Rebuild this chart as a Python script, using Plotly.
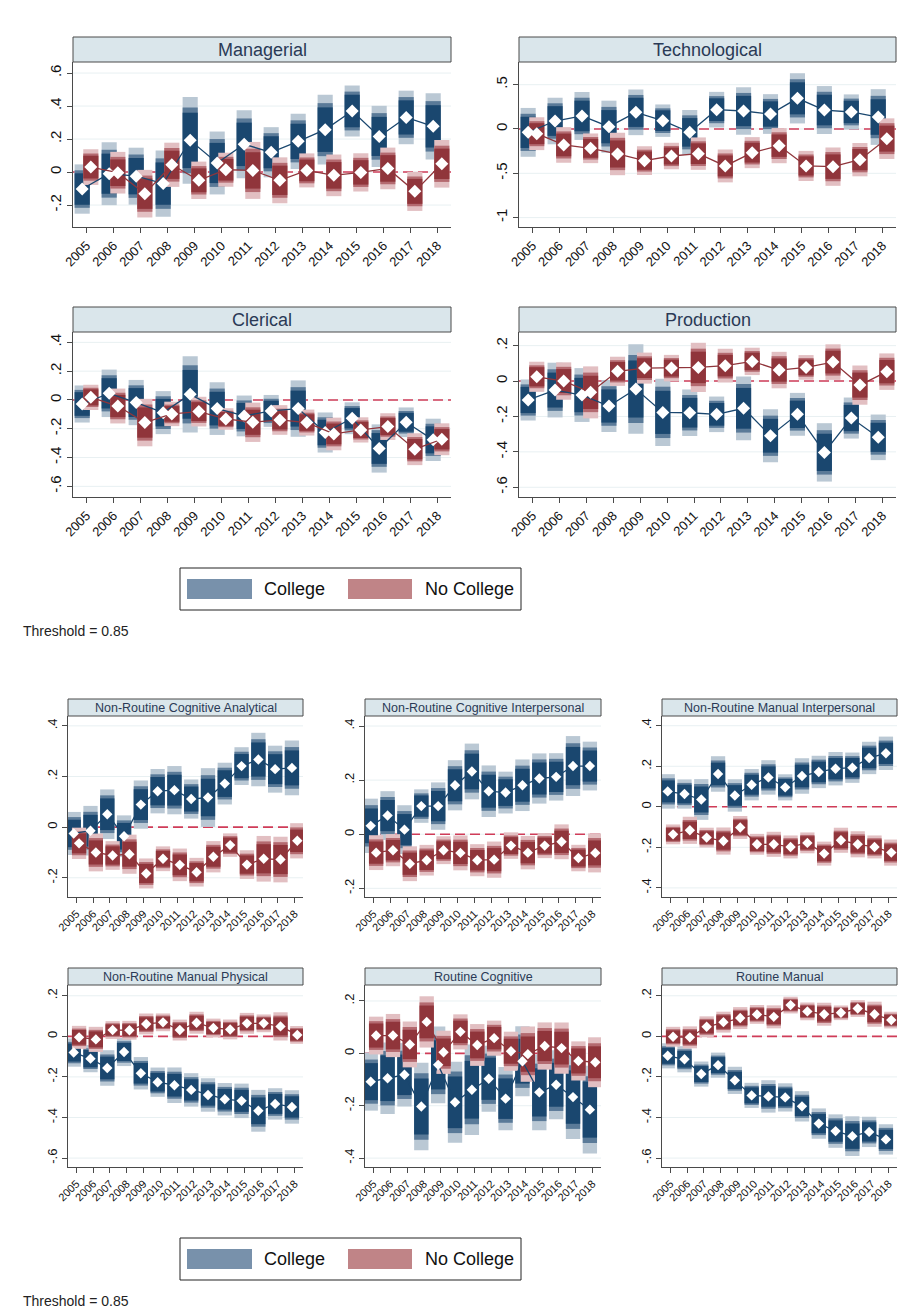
import plotly.graph_objects as go

years = list(range(2005, 2019))

# Point estimates and standard errors by year: College vs No College
managerial_col = [-0.103, -0.01, -0.025, -0.07, 0.192, 0.055, 0.168, 0.12, 0.186, 0.257, 0.37, 0.216, 0.331, 0.277]
managerial_col_se = [0.058, 0.074, 0.067, 0.078, 0.102, 0.074, 0.08, 0.059, 0.065, 0.082, 0.06, 0.072, 0.063, 0.078]
managerial_nocol = [0.03, -0.004, -0.131, 0.044, -0.05, 0.014, 0.01, -0.05, 0.01, -0.02, -0.002, 0.022, -0.117, 0.05]
managerial_nocol_se = [0.042, 0.049, 0.056, 0.052, 0.044, 0.04, 0.067, 0.054, 0.04, 0.049, 0.045, 0.049, 0.046, 0.056]

technological_col = [-0.038, 0.09, 0.147, 0.026, 0.188, 0.094, -0.038, 0.218, 0.203, 0.169, 0.346, 0.214, 0.192, 0.135]
technological_col_se = [0.107, 0.102, 0.105, 0.114, 0.1, 0.071, 0.098, 0.078, 0.104, 0.087, 0.11, 0.105, 0.077, 0.122]
technological_nocol = [-0.053, -0.18, -0.218, -0.282, -0.357, -0.305, -0.278, -0.417, -0.267, -0.188, -0.417, -0.425, -0.346, -0.109]
technological_nocol_se = [0.072, 0.078, 0.065, 0.093, 0.063, 0.058, 0.071, 0.072, 0.068, 0.077, 0.066, 0.084, 0.073, 0.089]

clerical_col = [-0.028, 0.046, -0.018, -0.088, 0.039, -0.06, -0.111, -0.076, -0.06, -0.226, -0.127, -0.337, -0.155, -0.277]
clerical_col_se = [0.05, 0.064, 0.061, 0.058, 0.103, 0.071, 0.055, 0.043, 0.076, 0.054, 0.043, 0.065, 0.04, 0.057]
clerical_nocol = [0.018, -0.042, -0.157, -0.097, -0.081, -0.132, -0.155, -0.139, -0.157, -0.236, -0.208, -0.185, -0.342, -0.273]
clerical_nocol_se = [0.034, 0.047, 0.064, 0.033, 0.04, 0.029, 0.053, 0.04, 0.035, 0.044, 0.034, 0.036, 0.043, 0.043]

production_col = [-0.107, -0.051, -0.079, -0.141, -0.045, -0.177, -0.179, -0.188, -0.154, -0.309, -0.188, -0.403, -0.209, -0.318]
production_col_se = [0.045, 0.06, 0.059, 0.057, 0.098, 0.074, 0.051, 0.039, 0.07, 0.058, 0.047, 0.064, 0.045, 0.05]
production_nocol = [0.024, 0.0, -0.064, 0.055, 0.073, 0.073, 0.077, 0.087, 0.111, 0.062, 0.077, 0.107, -0.023, 0.053]
production_nocol_se = [0.033, 0.041, 0.057, 0.032, 0.034, 0.029, 0.054, 0.037, 0.03, 0.04, 0.027, 0.039, 0.043, 0.04]

nrca_col = [-0.025, -0.014, 0.051, -0.036, 0.089, 0.142, 0.146, 0.111, 0.117, 0.172, 0.241, 0.267, 0.229, 0.234]
nrca_col_se = [0.033, 0.038, 0.038, 0.032, 0.037, 0.034, 0.037, 0.03, 0.045, 0.032, 0.029, 0.041, 0.036, 0.042]
nrca_nocol = [-0.064, -0.1, -0.112, -0.107, -0.183, -0.125, -0.149, -0.178, -0.117, -0.071, -0.148, -0.125, -0.128, -0.054]
nrca_nocol_se = [0.024, 0.029, 0.022, 0.03, 0.023, 0.019, 0.025, 0.022, 0.024, 0.018, 0.022, 0.035, 0.035, 0.027]

nrci_col = [0.031, 0.069, 0.017, 0.104, 0.104, 0.181, 0.232, 0.159, 0.154, 0.181, 0.206, 0.212, 0.252, 0.252]
nrci_col_se = [0.039, 0.035, 0.035, 0.024, 0.034, 0.036, 0.04, 0.037, 0.03, 0.037, 0.036, 0.034, 0.043, 0.035]
nrci_nocol = [-0.068, -0.059, -0.109, -0.096, -0.059, -0.069, -0.096, -0.094, -0.042, -0.068, -0.042, -0.028, -0.088, -0.069]
nrci_nocol_se = [0.025, 0.023, 0.025, 0.022, 0.02, 0.025, 0.023, 0.026, 0.019, 0.024, 0.018, 0.025, 0.019, 0.028]

nrmi_col = [0.076, 0.063, 0.036, 0.162, 0.056, 0.109, 0.145, 0.096, 0.152, 0.172, 0.188, 0.193, 0.241, 0.264]
nrmi_col_se = [0.033, 0.028, 0.039, 0.034, 0.031, 0.03, 0.033, 0.025, 0.034, 0.031, 0.032, 0.029, 0.031, 0.032]
nrmi_nocol = [-0.136, -0.116, -0.152, -0.169, -0.102, -0.185, -0.185, -0.198, -0.178, -0.231, -0.165, -0.185, -0.198, -0.226]
nrmi_nocol_se = [0.019, 0.026, 0.019, 0.026, 0.022, 0.02, 0.024, 0.022, 0.02, 0.023, 0.024, 0.025, 0.022, 0.025]

nrmp_col = [-0.08, -0.11, -0.156, -0.077, -0.182, -0.226, -0.241, -0.264, -0.289, -0.31, -0.318, -0.367, -0.333, -0.348]
nrmp_col_se = [0.027, 0.026, 0.034, 0.027, 0.031, 0.028, 0.034, 0.032, 0.032, 0.031, 0.033, 0.04, 0.03, 0.032]
nrmp_nocol = [-0.005, -0.015, 0.031, 0.03, 0.061, 0.069, 0.031, 0.067, 0.041, 0.034, 0.064, 0.064, 0.049, 0.007]
nrmp_nocol_se = [0.022, 0.024, 0.017, 0.018, 0.02, 0.017, 0.02, 0.021, 0.018, 0.019, 0.02, 0.017, 0.027, 0.017]

rc_col = [-0.108, -0.095, -0.082, -0.203, -0.044, -0.187, -0.139, -0.097, -0.173, -0.03, -0.149, -0.12, -0.167, -0.215]
rc_col_se = [0.043, 0.053, 0.047, 0.065, 0.057, 0.06, 0.067, 0.049, 0.047, 0.052, 0.056, 0.051, 0.062, 0.065]
rc_nocol = [0.068, 0.068, 0.034, 0.12, 0.004, 0.082, 0.032, 0.058, 0.008, -0.003, 0.028, 0.02, -0.029, -0.034]
rc_nocol_se = [0.028, 0.032, 0.034, 0.038, 0.032, 0.026, 0.031, 0.026, 0.029, 0.041, 0.035, 0.038, 0.029, 0.037]

rm_col = [-0.096, -0.113, -0.186, -0.142, -0.217, -0.291, -0.296, -0.301, -0.345, -0.43, -0.467, -0.492, -0.471, -0.508]
rm_col_se = [0.024, 0.025, 0.024, 0.024, 0.026, 0.024, 0.031, 0.027, 0.029, 0.029, 0.032, 0.038, 0.029, 0.029]
rm_nocol = [-0.002, -0.005, 0.047, 0.07, 0.09, 0.108, 0.096, 0.154, 0.123, 0.109, 0.116, 0.137, 0.109, 0.08]
rm_nocol_se = [0.019, 0.021, 0.02, 0.02, 0.021, 0.018, 0.022, 0.016, 0.017, 0.022, 0.014, 0.016, 0.024, 0.016]

group_labels = ["College", "No College"]
note_text = "Threshold = 0.85"

# ---- styling -------------------------------------------------------------
W, H = 915, 1315
FONT = "Liberation Sans, Arial, sans-serif"
NAVY = "#1a476f"
MAROON = "#90353b"
COL_SHADES = ["#bac8d4", "#5a7a98", NAVY]      # 99%, 95%, 90% intervals
NOCOL_SHADES = ["#e2bfc2", "#b46a70", MAROON]
LEGEND_SWATCH = ["#7891ab", "#c08487"]
Z_LEVELS = [2.576, 1.96, 1.645]
STRIP_FILL = "#dae6eb"
AXIS_COLOR = "#4a4a4a"
GRID_COLOR = "#e8f0f2"


def fx(px):
    return px / W


def fy(py):
    return 1 - py / H


def stata_label(v):
    s = f"{v:g}"
    return s.replace("0.", ".") if abs(v) < 1 else s


# panel frames in pixels: (left, right, top, bottom) of the plot area
panels = [
    dict(title="Managerial", col=managerial_col, col_se=managerial_col_se,
         nocol=managerial_nocol, nocol_se=managerial_nocol_se,
         frame=(73, 451, 62, 227), yrange=(-0.333, 0.667), yticks=[-0.2, 0, 0.2, 0.4, 0.6], big=True),
    dict(title="Technological", col=technological_col, col_se=technological_col_se,
         nocol=technological_nocol, nocol_se=technological_nocol_se,
         frame=(519, 896, 62, 227), yrange=(-1.106, 0.756), yticks=[-1, -0.5, 0, 0.5], big=True),
    dict(title="Clerical", col=clerical_col, col_se=clerical_col_se,
         nocol=clerical_nocol, nocol_se=clerical_nocol_se,
         frame=(73, 451, 332, 497), yrange=(-0.674, 0.472), yticks=[-0.6, -0.4, -0.2, 0, 0.2, 0.4], big=True),
    dict(title="Production", col=production_col, col_se=production_col_se,
         nocol=production_nocol, nocol_se=production_nocol_se,
         frame=(519, 896, 332, 497), yrange=(-0.655, 0.277), yticks=[-0.6, -0.4, -0.2, 0, 0.2], big=True),
    dict(title="Non-Routine Cognitive Analytical", col=nrca_col, col_se=nrca_col_se,
         nocol=nrca_nocol, nocol_se=nrca_nocol_se,
         frame=(68, 303, 716, 897), yrange=(-0.276, 0.439), yticks=[-0.2, 0, 0.2, 0.4], big=False),
    dict(title="Non-Routine Cognitive Interpersonal", col=nrci_col, col_se=nrci_col_se,
         nocol=nrci_nocol, nocol_se=nrci_nocol_se,
         frame=(365, 601, 716, 897), yrange=(-0.232, 0.437), yticks=[-0.2, 0, 0.2, 0.4], big=False),
    dict(title="Non-Routine Manual Interpersonal", col=nrmi_col, col_se=nrmi_col_se,
         nocol=nrmi_nocol, nocol_se=nrmi_nocol_se,
         frame=(662, 897, 716, 897), yrange=(-0.445, 0.448), yticks=[-0.4, -0.2, 0, 0.2, 0.4], big=False),
    dict(title="Non-Routine Manual Physical", col=nrmp_col, col_se=nrmp_col_se,
         nocol=nrmp_nocol, nocol_se=nrmp_nocol_se,
         frame=(68, 303, 985, 1167), yrange=(-0.644, 0.253), yticks=[-0.6, -0.4, -0.2, 0, 0.2], big=False),
    dict(title="Routine Cognitive", col=rc_col, col_se=rc_col_se,
         nocol=rc_nocol, nocol_se=rc_nocol_se,
         frame=(365, 601, 985, 1167), yrange=(-0.434, 0.261), yticks=[-0.4, -0.2, 0, 0.2], big=False),
    dict(title="Routine Manual", col=rm_col, col_se=rm_col_se,
         nocol=rm_nocol, nocol_se=rm_nocol_se,
         frame=(662, 897, 985, 1167), yrange=(-0.644, 0.253), yticks=[-0.6, -0.4, -0.2, 0, 0.2], big=False),
]

fig = go.Figure()
shapes = []
annotations = []

for i, p in enumerate(panels, start=1):
    xref = "x" if i == 1 else f"x{i}"
    yref = "y" if i == 1 else f"y{i}"
    left, right, top, bottom = p["frame"]
    big = p["big"]
    bar_w = 0.56 if big else 0.85
    offset = 0.16

    series = [
        (p["col"], p["col_se"], -offset, COL_SHADES, NAVY),
        (p["nocol"], p["nocol_se"], offset, NOCOL_SHADES, MAROON),
    ]
    for est, se, off, shades, line_col in series:
        xs = [yr + off for yr in years]
        for z, shade in zip(Z_LEVELS, shades):
            fig.add_trace(go.Bar(
                x=xs, y=[2 * z * s for s in se], base=[e - z * s for e, s in zip(est, se)],
                width=bar_w, marker=dict(color=shade, line=dict(width=0)),
                xaxis=xref, yaxis=yref, showlegend=False, hoverinfo="skip"))
        fig.add_trace(go.Scatter(
            x=xs, y=est, mode="lines+markers",
            line=dict(color=line_col, width=1.3),
            marker=dict(symbol="diamond", size=10 if big else 8, color="white", line=dict(width=0)),
            xaxis=xref, yaxis=yref, showlegend=False, hoverinfo="skip"))

    xname = "xaxis" if i == 1 else f"xaxis{i}"
    yname = "yaxis" if i == 1 else f"yaxis{i}"
    fig.update_layout(**{
        xname: dict(
            domain=[fx(left), fx(right)], anchor=yref, range=[2004.5, 2018.5],
            tickmode="array", tickvals=years, ticktext=[str(y) for y in years],
            tickangle=-45, tickfont=dict(size=13 if big else 11, color="#111", family=FONT),
            showgrid=False, zeroline=False, showline=True, linecolor=AXIS_COLOR, linewidth=1,
            ticks="outside", ticklen=5, tickcolor=AXIS_COLOR, fixedrange=True, automargin=False),
        yname: dict(
            domain=[fy(bottom), fy(top)], anchor=xref, range=list(p["yrange"]),
            tickmode="array", tickvals=p["yticks"], ticktext=[stata_label(v) for v in p["yticks"]],
            tickangle=-90, tickfont=dict(size=15 if big else 13, color="#111", family=FONT),
            showgrid=False, zeroline=False,
            showline=True, linecolor=AXIS_COLOR, linewidth=1,
            ticks="outside", ticklen=5, tickcolor=AXIS_COLOR, fixedrange=True, automargin=False),
    })

    # light horizontal grid at each labelled value, then the dashed zero reference on top
    for v in p["yticks"]:
        shapes.append(dict(type="line", xref=f"{xref} domain", yref=yref, x0=0, x1=1, y0=v, y1=v,
                           layer="below", line=dict(color=GRID_COLOR, width=1)))
    shapes.append(dict(type="line", xref=f"{xref} domain", yref=yref, x0=0, x1=1, y0=0, y1=0,
                       layer="below", line=dict(color="#d03c58", width=1.6, dash="10px,5px")))

    # title strip above the panel
    strip_h = 25 if big else 17
    shapes.append(dict(type="rect", xref="paper", yref="paper",
                       x0=fx(left), x1=fx(right), y0=fy(top), y1=fy(top - strip_h),
                       fillcolor=STRIP_FILL, line=dict(color=AXIS_COLOR, width=1)))
    annotations.append(dict(text=p["title"], xref="paper", yref="paper",
                            x=fx((left + right) / 2), y=fy(top - strip_h / 2),
                            xanchor="center", yanchor="middle", showarrow=False,
                            font=dict(size=18 if big else 12.5, color="#2a3a56", family=FONT)))

# legends and notes for the two blocks
for box_top, box_bot, note_y in [(568, 610, 631), (1238, 1280, 1301)]:
    shapes.append(dict(type="rect", xref="paper", yref="paper",
                       x0=fx(180), x1=fx(521), y0=fy(box_bot), y1=fy(box_top),
                       fillcolor="white", line=dict(color="#222", width=1)))
    mid = (box_top + box_bot) / 2
    for (sx0, sx1, tx), label, swatch in zip([(187, 252, 262), (348, 412, 423)], group_labels, LEGEND_SWATCH):
        shapes.append(dict(type="rect", xref="paper", yref="paper",
                           x0=fx(sx0), x1=fx(sx1), y0=fy(mid + 10), y1=fy(mid - 10),
                           fillcolor=swatch, line=dict(width=0)))
        annotations.append(dict(text=label, xref="paper", yref="paper", x=fx(tx), y=fy(mid),
                                xanchor="left", yanchor="middle", showarrow=False,
                                font=dict(size=18, color="#111", family=FONT)))
    annotations.append(dict(text=note_text, xref="paper", yref="paper", x=fx(21), y=fy(note_y),
                            xanchor="left", yanchor="middle", showarrow=False,
                            font=dict(size=14, color="#222", family=FONT)))

fig.update_layout(
    width=W, height=H, margin=dict(l=0, r=0, t=0, b=0, pad=0, autoexpand=False),
    paper_bgcolor="white", plot_bgcolor="white",
    barmode="overlay", showlegend=False,
    shapes=shapes, annotations=annotations,
    font=dict(family=FONT),
)

fig.write_html("out.html")
